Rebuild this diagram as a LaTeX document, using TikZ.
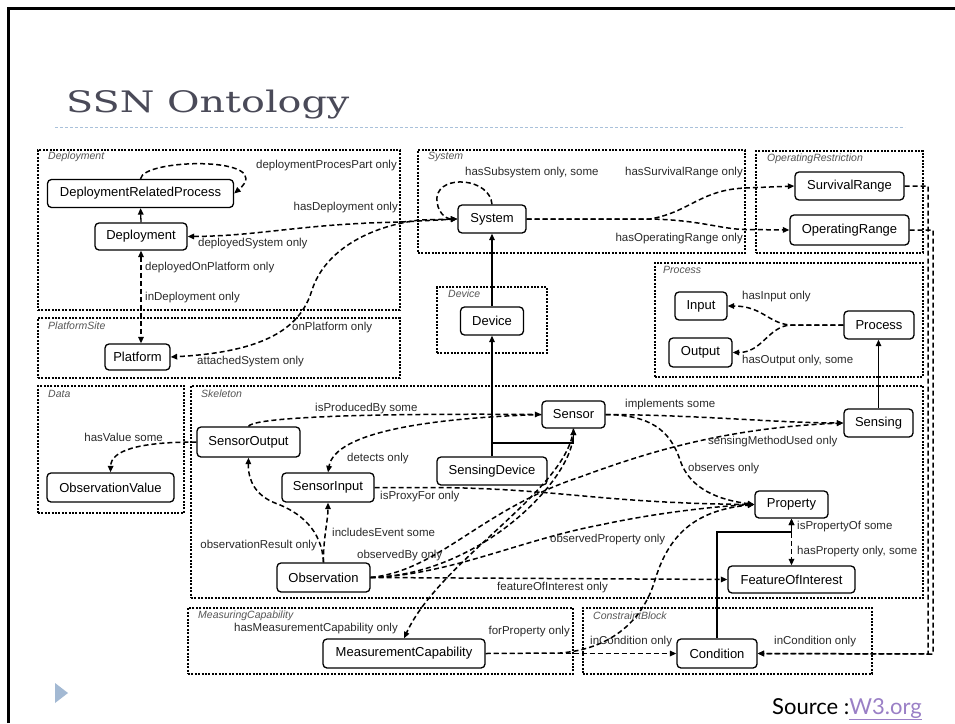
\documentclass[tikz,border=0pt]{standalone}
\usepackage{fontspec}
\usepackage{graphicx}
\setmainfont{Liberation Sans}
\newfontfamily\titlefont{DejaVu Serif}
\newfontfamily\sourcefont{Lato}
\usetikzlibrary{arrows.meta}
\definecolor{titlegray}{HTML}{4A4A58}
\definecolor{rulelightblue}{HTML}{A9C1DA}
\definecolor{bulletblue}{HTML}{A3B9D3}
\definecolor{linkpurple}{HTML}{9A7FC6}
\definecolor{labelgray}{HTML}{2A2A2A}
\definecolor{grouplabelgray}{HTML}{555555}

\begin{document}
\begin{tikzpicture}[x=1pt,y=-1pt,
  cls/.style={draw, line width=1.3pt, rounded corners=4pt, inner sep=0pt,
    font=\fontsize{13}{15}\selectfont, text=black},
  grp/.style={draw, line width=1.3pt, dash pattern=on 2pt off 1.4pt, inner sep=0pt},
  grplabel/.style={anchor=west, inner sep=0pt,
    font=\fontsize{10.5}{12}\selectfont\itshape, text=grouplabelgray},
  lbl/.style={inner sep=0pt, font=\fontsize{11.5}{13}\selectfont, text=labelgray},
  tip/.tip={Triangle[length=6.5pt,width=5.5pt]},
  rel/.style={line width=1.5pt, dash pattern=on 5pt off 3pt, -tip},
  relboth/.style={line width=1.5pt, dash pattern=on 5pt off 3pt, tip-tip},
  isa/.style={line width=1.3pt, -tip}]

\useasboundingbox (0,0) rectangle (955,723);
\fill[white] (0,0) rectangle (955,723);

% slide frame, title and footer
\draw[line width=2.6pt] (8.7,723) -- (8.7,8.7) -- (955,8.7);
\node[anchor=base west, inner sep=0pt, text=titlegray] (title) at (66,112)
  {\scalebox{1.34}[1]{\titlefont\fontsize{29.6}{34}\selectfont SSN Ontology}};
\draw[rulelightblue, line width=0.9pt, dash pattern=on 3pt off 2pt] (55,127) -- (905,127);
\fill[bulletblue] (55,683) -- (68,693) -- (55,703) -- cycle;
\node[anchor=base east, inner sep=0pt] (source) at (922,714)
  {\sourcefont\fontsize{22}{26}\selectfont Source :{\color{linkpurple}\underline{W3.org}}};

% package boxes
\node[grp, minimum width=362pt, minimum height=160pt] (gDeployment) at (219,230) {};
\node[grp, minimum width=362pt, minimum height=60pt] (gPlatform) at (219,348) {};
\node[grp, minimum width=327pt, minimum height=103pt] (gSystem) at (581.5,201.5) {};
\node[grp, minimum width=167pt, minimum height=102pt] (gOpRestr) at (839.5,202) {};
\node[grp, minimum width=268pt, minimum height=114pt] (gProcess) at (789,320) {};
\node[grp, minimum width=110pt, minimum height=66pt] (gDevice) at (492,320) {};
\node[grp, minimum width=146pt, minimum height=127pt] (gData) at (111,449.5) {};
\node[grp, minimum width=732pt, minimum height=212pt] (gSkeleton) at (557,492) {};
\node[grp, minimum width=385pt, minimum height=66pt] (gMeasCap) at (380.5,641) {};
\node[grp, minimum width=289pt, minimum height=66pt] (gConstraint) at (727.5,641) {};

\node[grplabel] (tDeployment) at (48,157) {Deployment};
\node[grplabel] (tPlatform) at (48,326) {PlatformSite};
\node[grplabel] (tSystem) at (428,157) {System};
\node[grplabel] (tOpRestr) at (767,159) {OperatingRestriction};
\node[grplabel] (tProcess) at (663,270) {Process};
\node[grplabel] (tDevice) at (448,294) {Device};
\node[grplabel] (tData) at (48,394) {Data};
\node[grplabel] (tSkeleton) at (201,394) {Skeleton};
\node[grplabel] (tMeasCap) at (198,616) {MeasuringCapability};
\node[grplabel] (tConstraint) at (593,616) {ConstraintBlock};

% classes
\node[cls, minimum width=186pt, minimum height=28pt] (drp) at (140.5,193.5) {DeploymentRelatedProcess};
\node[cls, minimum width=92pt, minimum height=27pt] (dep) at (141,236.5) {Deployment};
\node[cls, minimum width=65pt, minimum height=26pt] (plat) at (137.5,357) {Platform};
\node[cls, minimum width=68pt, minimum height=28pt] (sys) at (492,219) {System};
\node[cls, minimum width=63pt, minimum height=28pt] (dev) at (492,321) {Device};
\node[cls, minimum width=109pt, minimum height=28pt] (surv) at (849.5,186) {SurvivalRange};
\node[cls, minimum width=119pt, minimum height=30pt] (oprange) at (849.5,230) {OperatingRange};
\node[cls, minimum width=52pt, minimum height=28pt] (input) at (701,306) {Input};
\node[cls, minimum width=63pt, minimum height=29pt] (output) at (700.5,352.5) {Output};
\node[cls, minimum width=70pt, minimum height=28pt] (process) at (879,325) {Process};
\node[cls, minimum width=103pt, minimum height=30pt] (sout) at (248.5,442) {SensorOutput};
\node[cls, minimum width=92pt, minimum height=29pt] (sin) at (328,487.5) {SensorInput};
\node[cls, minimum width=93pt, minimum height=29pt] (obs) at (323.5,577.5) {Observation};
\node[cls, minimum width=127pt, minimum height=29pt] (oval) at (110.5,487.5) {ObservationValue};
\node[cls, minimum width=63pt, minimum height=27pt] (sensor) at (573.5,414.5) {Sensor};
\node[cls, minimum width=110pt, minimum height=28pt] (sdev) at (492,471) {SensingDevice};
\node[cls, minimum width=69pt, minimum height=28pt] (sensing) at (878.5,423) {Sensing};
\node[cls, minimum width=73pt, minimum height=27pt] (prop) at (791.5,504.5) {Property};
\node[cls, minimum width=127pt, minimum height=27pt] (foi) at (791.5,579.5) {FeatureOfInterest};
\node[cls, minimum width=162pt, minimum height=29pt] (mcap) at (404,653.5) {MeasurementCapability};
\node[cls, minimum width=80pt, minimum height=29pt] (cond) at (717,653.5) {Condition};

% subclass links
\draw[isa] (dep.north) -- (drp.south);
\draw[isa] (dev.north) -- (sys.south);
\draw[isa] (sdev.north) -- (dev.south);
\coordinate (sdevbranch) at (492,443);
\draw[isa] (sdevbranch) -| (sensor.south);
\draw[isa] (sensing.north) -- (sensing.north |- process.south);
\coordinate (condjoin) at (791.5,532);
\draw[isa] (cond.north) |- (condjoin) -- (prop.south);

% properties: deployment and platform
\draw[rel] (drp.north) .. controls (143,158) and (278,156) .. (drp.east);
\node[lbl, anchor=east] (lDpp) at (397,166) {deploymentProcesPart only};
\draw[relboth] (dep.east) .. controls (260,236) and (300,224) .. (400,222) -- (sys.west);
\node[lbl, anchor=east] (lHasDep) at (398,208) {hasDeployment only};
\node[lbl, anchor=west] (lDepSys) at (198,243.5) {deployedSystem only};
\draw[relboth] (sys.west) -- (420,220) .. controls (370,226) and (325,250) .. (312,290)
  .. controls (300,330) and (262,352) .. (plat.east);
\node[lbl, anchor=west] (lOnPlat) at (292,328) {onPlatform only};
\node[lbl, anchor=west] (lAttSys) at (197,362) {attachedSystem only};
\draw[relboth] (dep.south) -- (dep.south |- plat.north);
\node[lbl, anchor=west] (lDepOnPlat) at (145,268) {deployedOnPlatform only};
\node[lbl, anchor=west] (lInDep) at (145,298) {inDeployment only};

% properties: system and operating restrictions
\draw[rel] (sys.north) .. controls (490,178) and (440,174) .. (437,197)
  .. controls (436,212) and (446,219) .. (sys.west);
\node[lbl, anchor=west] (lSubsys) at (465,173) {hasSubsystem only, some};
\draw[rel] (sys.east) -- (650,219) .. controls (690,212) and (700,190) .. (745,188) -- (surv.west);
\node[lbl, anchor=east] (lSurv) at (743,173) {hasSurvivalRange only};
\draw[rel] (sys.east) -- (650,219) .. controls (700,220) and (720,229) .. (745,229.5) -- (oprange.west);
\node[lbl, anchor=east] (lOpR) at (743,239) {hasOperatingRange only};
\coordinate (survdown) at (928,654);
\coordinate (opdown) at (933,654);
\draw[rel] (surv.east) -| (survdown) -- (cond.east);
\draw[rel] (oprange.east) -| (opdown) -- (cond.east);
\node[lbl, anchor=west] (lInCondR) at (774,642) {inCondition only};

% properties: process
\coordinate (procsplit) at (790,325);
\draw[rel] (process.west) -- (procsplit) .. controls (768,323) and (762,306) .. (input.east);
\draw[rel] (process.west) -- (procsplit) .. controls (768,327) and (762,352.5) .. (output.east);
\node[lbl, anchor=west] (lHasIn) at (742,297) {hasInput only};
\node[lbl, anchor=west] (lHasOut) at (742,361) {hasOutput only, some};

% properties: skeleton
\draw[rel] (sout.west) .. controls (140,442) and (111,450) .. (oval.north);
\node[lbl, anchor=east] (lHasVal) at (163,437) {hasValue some};
\draw[rel] (obs.north) .. controls (322,530) and (300,512) .. (275,503)
  .. controls (255,495) and (248,480) .. (sout.south);
\node[lbl, anchor=east] (lObsRes) at (317,546) {observationResult only};
\draw[rel] (obs.north) .. controls (323,540) and (328,520) .. (sin.south);
\node[lbl, anchor=west] (lInclEv) at (332,532) {includesEvent some};
\draw[rel] (sout.north) .. controls (252,419) and (330,413) .. (sensor.west);
\node[lbl, anchor=west] (lProdBy) at (315,409) {isProducedBy some};
\draw[rel] (sensor.west) .. controls (430,418) and (335,432) .. (sin.north);
\node[lbl, anchor=west] (lDetects) at (347,459) {detects only};
\draw[rel] (sin.east) -- (440,487.5) .. controls (560,489) and (600,503) .. (prop.west);
\node[lbl, anchor=west] (lProxy) at (380,497) {isProxyFor only};
\draw[rel] (obs.east) .. controls (480,575) and (572,480) .. (sensor.south);
\node[lbl, anchor=west] (lObsBy) at (357,556) {observedBy only};
\draw[rel] (sensor.south) .. controls (568,490) and (440,560) .. (mcap.north);
\node[lbl, anchor=east] (lHasMC) at (398,629) {hasMeasurementCapability only};
\draw[rel] (obs.east) .. controls (450,575) and (520,540) .. (600,525)
  .. controls (660,512) and (720,506) .. (prop.west);
\node[lbl, anchor=west] (lObsProp) at (550,540) {observedProperty only};
\draw[rel] (obs.east) .. controls (440,570) and (480,510) .. (580,477)
  .. controls (640,455) and (720,428) .. (sensing.west);
\node[lbl, anchor=west] (lSensMeth) at (708,442) {sensingMethodUsed only};
\draw[rel] (obs.east) -- (foi.west);
\node[lbl, anchor=west] (lFoi) at (497,588) {featureOfInterest only};
\draw[rel] (sensor.east) .. controls (700,415) and (780,423) .. (sensing.west);
\node[lbl, anchor=west] (lImpl) at (625,405) {implements some};
\draw[rel] (sensor.east) .. controls (650,415) and (670,430) .. (680,460)
  .. controls (690,490) and (720,500) .. (prop.west);
\node[lbl, anchor=west] (lObserves) at (688,469) {observes only};
\draw[relboth] (prop.south) -- (foi.north);
\node[lbl, anchor=west] (lIsPropOf) at (797,527) {isPropertyOf some};
\node[lbl, anchor=west] (lHasProp) at (797,552) {hasProperty only, some};

% properties: measuring capability
\draw[rel] (mcap.east) -- (560,653) .. controls (600,650) and (640,630) .. (655,580)
  .. controls (670,530) and (700,510) .. (prop.west);
\node[lbl, anchor=east] (lForProp) at (570,632) {forProperty only};
\draw[rel] (mcap.east) -- (cond.west);
\node[lbl, anchor=west] (lInCondL) at (590,642) {inCondition only};

\end{tikzpicture}
\end{document}
